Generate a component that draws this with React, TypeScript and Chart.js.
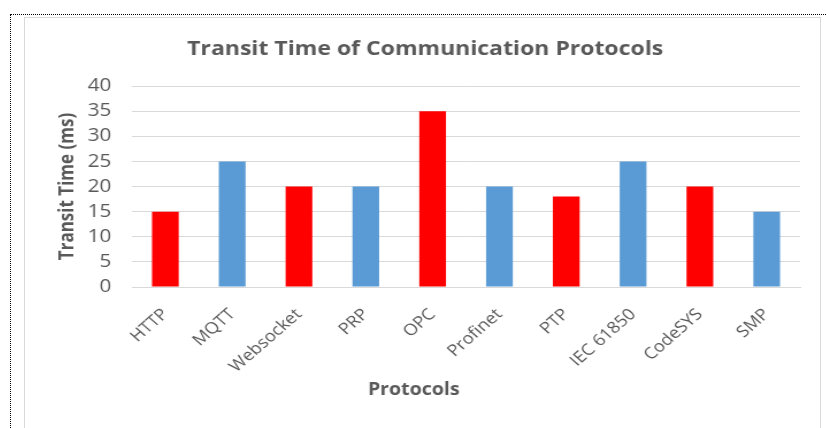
import React, { useEffect, useRef } from "react";
import { Chart, registerables } from "chart.js";

Chart.register(...registerables);

const categories = ["HTTP", "MQTT", "Websocket", "PRP", "OPC", "Profinet", "PTP", "IEC 61850", "CodeSYS", "SMP"];
const transitTimes = [15, 25, 20, 20, 35, 20, 18, 25, 20, 15];
const barColors = ["#FF0000", "#5B9BD5", "#FF0000", "#5B9BD5", "#FF0000", "#5B9BD5", "#FF0000", "#5B9BD5", "#FF0000", "#5B9BD5"];
const yMin = 0;
const yMax = 40;
const yStep = 5;

const chartTitle = "Transit Time of Communication Protocols";
const xTitle = "Protocols";
const yTitle = "Transit Time (ms)";

const TEXT = "#595959";
const GRID = "#d9d9d9";
const FONT = "'Open Sans', 'Noto Sans', sans-serif";
const SX = 1.15;
const CW = 691;
const CH = 410;

const xTitlePlugin = {
  id: "xTitlePlugin",
  afterDraw(chart: any) {
    const ctx = chart.ctx;
    ctx.save();
    ctx.fillStyle = TEXT;
    ctx.font = `bold 17px ${FONT}`;
    ctx.textAlign = "center";
    ctx.textBaseline = "middle";
    ctx.fillText(xTitle, 338, 372);
    ctx.restore();
  },
};

export default function App() {
  const ref = useRef<HTMLCanvasElement | null>(null);

  useEffect(() => {
    if (!ref.current) return;
    const chart = new Chart(ref.current, {
      type: "bar",
      data: {
        labels: categories,
        datasets: [
          {
            data: transitTimes,
            backgroundColor: barColors,
            borderWidth: 0,
            categoryPercentage: 1,
            barPercentage: 0.4,
          },
        ],
      },
      plugins: [xTitlePlugin],
      options: {
        responsive: false,
        animation: false,
        devicePixelRatio: 1,
        layout: { padding: { left: 22, right: 17, top: 0, bottom: 0 } },
        plugins: {
          legend: { display: false },
          tooltip: { enabled: false },
          title: {
            display: true,
            text: chartTitle,
            color: TEXT,
            font: { family: FONT, size: 20, weight: "bold" },
            padding: { top: 19, bottom: 25 },
          },
        },
        scales: {
          x: {
            grid: { display: false, drawTicks: false },
            border: { display: true, color: GRID, width: 1 },
            ticks: {
              autoSkip: false,
              minRotation: 45,
              maxRotation: 45,
              color: TEXT,
              padding: 18,
              font: { family: FONT, size: 16 },
            },
            afterFit: (scale: any) => {
              scale.height = 141;
            },
          },
          y: {
            min: yMin,
            max: yMax,
            grid: { color: GRID, drawTicks: false },
            border: { display: false },
            ticks: {
              stepSize: yStep,
              color: TEXT,
              padding: 18,
              font: { family: FONT, size: 18 },
            },
            title: {
              display: true,
              text: yTitle,
              color: TEXT,
              font: { family: FONT, size: 17, weight: "bold" },
              padding: { top: 5, bottom: 0 },
            },
            afterFit: (scale: any) => {
              scale.width = 71;
            },
          },
        },
      },
    });
    return () => chart.destroy();
  }, []);

  return (
    <div>
      <div
        style={{
          position: "fixed",
          left: 10,
          top: 14,
          width: 816,
          height: 414,
          borderTop: "1px dotted #000",
          borderLeft: "1px dotted #000",
          boxSizing: "border-box",
        }}
      />
      <div
        style={{
          position: "fixed",
          left: 24,
          top: 17,
          width: 797,
          height: 420,
          border: "1px solid #d9d9d9",
          boxSizing: "border-box",
          background: "#fff",
        }}
      />
      <div
        style={{
          position: "fixed",
          left: 25,
          top: 18,
          width: CW,
          height: CH,
          transform: `scaleX(${SX})`,
          transformOrigin: "left top",
        }}
      >
        <canvas ref={ref} width={CW} height={CH} style={{ width: CW, height: CH, display: "block" }} />
      </div>
    </div>
  );
}
